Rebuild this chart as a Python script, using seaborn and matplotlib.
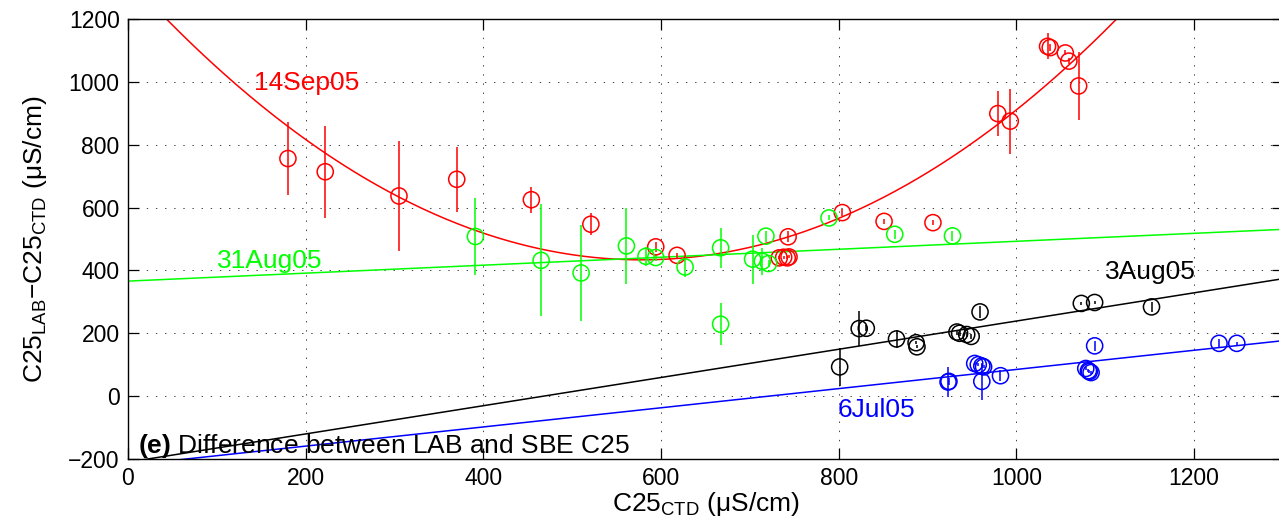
import numpy as np
import pandas as pd
import matplotlib
matplotlib.use("Agg")
import matplotlib.pyplot as plt
import seaborn as sns

# ---------------- data ----------------
# 14Sep05 (red)
sep_x = [180, 222, 305, 370, 454, 521, 594, 618, 733, 738, 742, 744, 743, 804, 851, 906, 979, 993, 1035, 1038, 1055, 1059, 1070]
sep_y = [756, 714, 637, 690, 625, 547, 475, 448, 440, 442, 440, 443, 507, 584, 556, 552, 899, 875, 1113, 1109, 1092, 1066, 987]
sep_e = [116, 147, 176, 104, 42, 35, 15, 8, 5, 5, 5, 5, 18, 10, 8, 8, 72, 103, 41, 10, 8, 10, 107]

# 31Aug05 (green)
aug31_x = [391, 465, 510, 561, 583, 594, 627, 667, 667, 703, 714, 718, 721, 789, 863, 928]
aug31_y = [508, 432, 392, 478, 445, 441, 411, 472, 229, 436, 429, 509, 422, 567, 515, 510]
aug31_e = [122, 178, 152, 122, 30, 10, 32, 64, 66, 78, 43, 18, 10, 8, 15, 15]

# 3Aug05 (black)
aug3_x = [801, 823, 831, 865, 887, 888, 933, 936, 944, 949, 959, 1073, 1088, 1152]
aug3_y = [93, 215, 216, 182, 170, 157, 204, 200, 196, 190, 268, 295, 298, 284]
aug3_e = [60, 56, 10, 30, 5, 5, 8, 8, 8, 8, 20, 5, 5, 15]

# 6Jul05 (blue)
jul_x = [923, 924, 953, 957, 961, 963, 961, 982, 1078, 1081, 1084, 1082, 1088, 1228, 1248]
jul_y = [45, 47, 104, 100, 96, 93, 47, 65, 88, 81, 75, 78, 160, 168, 168]
jul_e = [48, 10, 5, 5, 5, 5, 58, 18, 5, 5, 5, 5, 15, 15, 5]

# fitted curves: polynomial coefficients (highest power first)
sep_fit = [0.00268, -3.098, 1329.0]
aug31_fit = [0.1267, 366.0]
aug3_fit = [0.449, -210.0]
jul_fit = [0.305, -220.0]

labels = ["14Sep05", "31Aug05", "3Aug05", "6Jul05"]
x_ticks = [0, 200, 400, 600, 800, 1000, 1200]
y_ticks = [-200, 0, 200, 400, 600, 800, 1000, 1200]

# ---------------- style ----------------
sns.set_theme(style="white")
plt.rcParams["font.family"] = ["Liberation Sans", "DejaVu Sans"]
plt.rcParams["mathtext.fontset"] = "custom"
plt.rcParams["mathtext.rm"] = "Liberation Sans"
plt.rcParams["mathtext.it"] = "Liberation Sans:italic"
plt.rcParams["mathtext.bf"] = "Liberation Sans:bold"
plt.rcParams["mathtext.default"] = "regular"
FS = 16.5     # tick labels
FT = 19       # axis labels and annotations

fig = plt.figure(figsize=(12.79, 5.29), dpi=100)
ax = fig.add_axes([128 / 1279, 70 / 529, 1155 / 1279, 440 / 529])

xs = np.linspace(0, 1300, 600)
series = [
    (sep_x, sep_y, sep_e, sep_fit, "#ff0000"),
    (aug31_x, aug31_y, aug31_e, aug31_fit, "#00ff00"),
    (aug3_x, aug3_y, aug3_e, aug3_fit, "#000000"),
    (jul_x, jul_y, jul_e, jul_fit, "#0000ff"),
]

for (x, y, e, fit, col), lab in zip(series, labels):
    df = pd.DataFrame({"x": x, "y": y})
    ax.errorbar(x, y, yerr=e, fmt="none", ecolor=col, elinewidth=1.1, capsize=0, zorder=3)
    sns.scatterplot(data=df, x="x", y="y", ax=ax, marker="o", s=135,
                    facecolor="none", edgecolor=col, linewidth=1.1, zorder=4, legend=False)
    fdf = pd.DataFrame({"x": xs, "y": np.polyval(fit, xs)})
    sns.lineplot(data=fdf, x="x", y="y", ax=ax, color=col, linewidth=1.1, zorder=2, legend=False)

# curve labels
ax.text(142, 995, "14Sep05", color="#ff0000", fontsize=FT, va="center", ha="left")
ax.text(100, 429, "31Aug05", color="#00ff00", fontsize=FT, va="center", ha="left")
ax.text(1100, 395, "3Aug05", color="#000000", fontsize=FT, va="center", ha="left")
ax.text(799, -45, "6Jul05", color="#0000ff", fontsize=FT, va="center", ha="left")

ax.text(11, -160, r"$\mathbf{(e)}$ Difference between LAB and SBE C25",
        fontsize=FT, va="center", ha="left", color="black", zorder=5)

ax.set_xlim(0, 1300)
ax.set_ylim(-200, 1200)
ax.set_xticks(x_ticks)
ax.set_yticks(y_ticks)
ax.set_xticklabels([str(v) for v in x_ticks], fontsize=FS)
ax.set_yticklabels([("\u2212" + str(-v)) if v < 0 else str(v) for v in y_ticks], fontsize=FS)
ax.grid(True, linestyle=(0, (1.4, 8)), color="0.25", linewidth=0.7)
ax.tick_params(direction="in", length=8, width=0.9, top=True, right=True,
               bottom=True, left=True, pad=6, colors="black")
for sp in ax.spines.values():
    sp.set_color("black")
    sp.set_linewidth(1.0)

ax.set_xlabel(r"C25$_{CTD}$ ($\mu$S/cm)", fontsize=FT, labelpad=0, color="black")
ax.set_ylabel(r"C25$_{LAB}$$-$C25$_{CTD}$ ($\mu$S/cm)", fontsize=FT, labelpad=14, color="black")

fig.savefig("out.png", dpi=100)
